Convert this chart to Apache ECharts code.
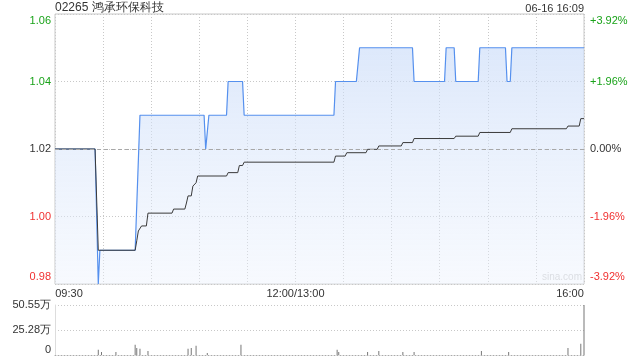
<!DOCTYPE html>
<html>
<head>
<meta charset="utf-8">
<script src="https://cdn.jsdelivr.net/npm/echarts@6/dist/echarts.min.js"></script>
<style>html,body{margin:0;padding:0;background:#fff}#c{width:640px;height:360px}</style>
</head>
<body>
<div id="c"></div>
<script>
// ---- data ----
var title = '02265 鸿承环保科技';
var stamp = '06-16 16:09';
var preClose = 1.02;
var priceTicks = [0.98, 1.00, 1.02, 1.04, 1.06];
var timeLabels = {0: '09:30', 150: '12:00/13:00', 330: '16:00'};
// [minute index from 09:30 (lunch skipped), price]
var pricePts = [
  [0,1.02],[25,1.02],[27,0.98],[28,0.99],[50,0.99],[53,1.03],[93,1.03],[94,1.02],[96,1.03],
  [107,1.03],[108,1.04],[117,1.04],[118,1.03],[174,1.03],[175,1.04],[188,1.04],[190,1.05],
  [223,1.05],[224,1.04],[243,1.04],[244,1.05],[249,1.05],[250,1.04],[264,1.04],[265,1.05],
  [281,1.05],[282,1.04],[284,1.04],[285,1.05],[330,1.05]
];
var avgPts = [
  [0,1.02],[25,1.02],[27,0.990],[50,0.990],[51,0.9928],[52,0.9957],[54,0.9972],[57,0.9972],
  [58,1.0010],[73,1.0010],[74,1.0022],[81,1.0022],[82,1.0040],[83,1.0061],[85,1.0061],
  [86,1.0090],[88,1.0100],[89,1.0120],[107,1.0120],[108,1.0130],[114,1.0130],[115,1.0151],
  [117,1.0151],[118,1.0161],[174,1.0161],[175,1.0179],[181,1.0179],[182,1.0189],[194,1.0189],
  [195,1.0199],[201,1.0199],[202,1.0209],[216,1.0209],[217,1.0219],[223,1.0219],[224,1.0231],
  [249,1.0231],[250,1.0238],[264,1.0238],[265,1.0249],[284,1.0249],[285,1.0260],[319,1.0260],
  [320,1.0268],[327,1.0268],[328,1.0290],[330,1.0290]
];
// [minute, volume (shares)]
var volPts = [
  [27,52000],[29,30000],[38,30000],[50,103000],[51,72000],[53,62000],[58,41000],
  [83,62000],[85,72000],[88,93000],[95,20000],[116,103000],[176,52000],[177,30000],
  [195,30000],[202,41000],[217,30000],[224,30000],[266,41000],[283,30000],[320,72000],
  [328,113000],[330,505500]
];
var volMax = 505500;

var FONT = '"Liberation Sans", Arial, sans-serif';
var GREEN = '#1aa31a', RED = '#f03030', DARK = '#333';
function colorFor(v){ var d = Math.round((v - preClose)*10000); return d > 0 ? GREEN : (d < 0 ? RED : DARK); }
function isMax(v){ return Math.abs(v - priceTicks[priceTicks.length-1]) < 1e-6; }
function isMin(v){ return Math.abs(v - priceTicks[0]) < 1e-6; }
function pct(v){ var p = (v - preClose)/preClose*100; var s = Math.abs(p) < 1e-6 ? '0.00' : p.toFixed(2); return (p > 1e-6 ? '+' : '') + s + '%'; }

var chart = echarts.init(document.getElementById('c'), null, {renderer: 'canvas'});
chart.setOption({
  animation: false,
  textStyle: {fontFamily: FONT},
  title: [
    {text: title, left: 55, top: 2, padding: 0, textStyle: {fontSize: 12, fontWeight: 'normal', color: DARK, fontFamily: FONT}},
    {text: stamp, right: 56, top: 3, padding: 0, textStyle: {fontSize: 11, fontWeight: 'normal', color: DARK, fontFamily: FONT}}
  ],
  graphic: [{type: 'text', right: 58, top: 272, style: {text: 'sina.com', fill: '#d0d0d0', font: '10px ' + FONT}}],
  grid: [
    {left: 55, right: 56, top: 14, height: 270, show: true, borderColor: '#c8c8c8', borderWidth: 1, backgroundColor: 'transparent'},
    {left: 55, right: 56, top: 305, height: 50, show: false}
  ],
  xAxis: [
    {type: 'value', gridIndex: 0, min: 0, max: 330, interval: 30,
     axisLine: {show: false}, axisTick: {show: false},
     splitLine: {show: true, lineStyle: {color: '#c8c8c8', type: [1,2], width: 1}},
     axisLabel: {margin: 4, fontSize: 11, color: DARK, fontFamily: FONT,
       formatter: function(v){ if (v === 0) return '{l|' + timeLabels[0] + '}'; if (v === 150) return timeLabels[150]; if (v === 330) return '{r|' + timeLabels[330] + '}'; return ''; },
       rich: {l: {padding: [0,0,0,28], fontSize: 11, color: DARK}, r: {padding: [0,28,0,0], fontSize: 11, color: DARK}}
     }},
    {type: 'value', gridIndex: 1, min: 0, max: 330, interval: 30,
     axisLine: {show: true, lineStyle: {color: '#aaa', type: [1,2]}}, axisTick: {show: false},
     splitLine: {show: false}, axisLabel: {show: false}}
  ],
  yAxis: [
    {type: 'value', gridIndex: 0, min: 0.98, max: 1.06, interval: 0.02, position: 'left',
     axisLine: {show: false}, axisTick: {show: false},
     splitLine: {show: true, lineStyle: {color: '#c8c8c8', type: [1,2]}},
     axisLabel: {margin: 4, fontSize: 11, fontFamily: FONT, color: function(v){ return colorFor(+v); },
       formatter: function(v){ var s = v.toFixed(2); if (isMax(v)) return '{t|' + s + '}'; if (isMin(v)) return '{b|' + s + '}'; return s; },
       rich: {t: {padding: [13,0,0,0], color: GREEN, fontSize: 11}, b: {padding: [0,0,14,0], color: RED, fontSize: 11}}
     }},
    {type: 'value', gridIndex: 0, min: 0.98, max: 1.06, interval: 0.02, position: 'right',
     axisLine: {show: false}, axisTick: {show: false}, splitLine: {show: false},
     axisLabel: {margin: 6, fontSize: 11, fontFamily: FONT, color: function(v){ return colorFor(+v); },
       formatter: function(v){ var s = pct(v); if (isMax(v)) return '{t|' + s + '}'; if (isMin(v)) return '{b|' + s + '}'; return s; },
       rich: {t: {padding: [13,0,0,0], color: GREEN, fontSize: 11}, b: {padding: [0,0,14,0], color: RED, fontSize: 11}}
     }},
    {type: 'value', gridIndex: 1, min: 0, max: volMax, interval: volMax/2,
     axisLine: {show: true, lineStyle: {color: '#ddd'}}, axisTick: {show: false},
     splitLine: {show: true, lineStyle: {color: '#c8c8c8', type: [1,2]}},
     axisLabel: {margin: 4, fontSize: 11, color: DARK, fontFamily: FONT,
       formatter: function(v){ if (v === 0) return '{b|0}'; return (Math.round(v/100)/100).toFixed(2) + '万'; },
       rich: {b: {padding: [0,0,10,0], color: DARK, fontSize: 11}}
     }}
  ],
  series: [
    {type: 'line', xAxisIndex: 0, yAxisIndex: 0, data: pricePts, symbol: 'none', z: 3,
     lineStyle: {color: '#5590ee', width: 1.2},
     areaStyle: {origin: 'start', color: new echarts.graphic.LinearGradient(0,0,0,1,[{offset:0,color:'rgba(198,217,248,0.85)'},{offset:1,color:'rgba(236,242,253,0.6)'}])},
     markLine: {silent: true, symbol: 'none', label: {show: false}, lineStyle: {color: '#a8a8a8', type: [4,3], width: 1}, data: [{yAxis: preClose}]}
    },
    {type: 'line', xAxisIndex: 0, yAxisIndex: 0, data: avgPts, symbol: 'none', z: 4,
     lineStyle: {color: '#3a3a3a', width: 1}},
    {type: 'bar', xAxisIndex: 1, yAxisIndex: 2, data: volPts, barWidth: 1,
     itemStyle: {color: '#777'}}
  ]
});
</script>
</body>
</html>
